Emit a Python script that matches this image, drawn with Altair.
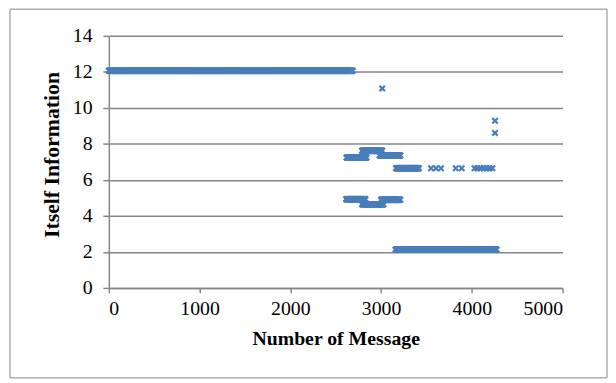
import altair as alt
import pandas as pd
import numpy as np

# Runs of consecutive messages sharing the same itself-information value
run_start = [0, 2620, 2790, 2985, 2615, 2790, 3000, 3160, 3165]
run_end = [2690, 2840, 3017, 3213, 2830, 3028, 3213, 4273, 3420]
run_value = [12.06, 7.24, 7.62, 7.36, 4.93, 4.64, 4.90, 2.13, 6.65]

# Isolated messages
single_x = [3551, 3606, 3660, 3823, 3889, 4030, 4062, 4095, 4130, 4162, 4195, 4227, 3013, 4256, 4256]
single_y = [6.65, 6.65, 6.65, 6.65, 6.65, 6.65, 6.65, 6.65, 6.65, 6.65, 6.65, 6.65, 11.08, 9.28, 8.61]

x_ticks = [0, 1000, 2000, 3000, 4000, 5000]
y_ticks = [0, 2, 4, 6, 8, 10, 12, 14]

xs, ys = [], []
for s, e, v in zip(run_start, run_end, run_value):
    for m in range(s, e + 1, 4):
        xs.append(m)
        ys.append(v)
xs += single_x
ys += single_y
df = pd.DataFrame({"msg": xs, "info": ys})

FONT = "Liberation Serif"
GREY = "#868686"
BLUE = "#4a7ebb"

points = alt.Chart(df).mark_point(
    shape="M-1,-1L1,1M1,-1L-1,1",
    filled=False,
    size=30,
    strokeWidth=2.2,
    color=BLUE,
    opacity=1,
).encode(
    x=alt.X("msg:Q", scale=alt.Scale(domain=[0, 5000], nice=False),
            axis=alt.Axis(values=x_ticks, title="Number of Message", grid=False,
                          format="d", tickSize=5, labelPadding=6, titlePadding=10,
                          titleFontSize=20)),
    y=alt.Y("info:Q", scale=alt.Scale(domain=[0, 14], nice=False),
            axis=alt.Axis(values=y_ticks, title="Itself Information", grid=True,
                          format="d", tickSize=6, labelPadding=11, titlePadding=9,
                          titleFontSize=22, titleY=120)),
)

frame = alt.Chart(pd.DataFrame({"a": [0]})).mark_rect(
    filled=False, stroke=GREY, strokeWidth=1, clip=False
).encode(
    x=alt.value(-100), x2=alt.value(504), y=alt.value(-27), y2=alt.value(346)
)

chart = alt.layer(frame, points).properties(
    width=459, height=255,
    autosize=alt.AutoSizeParams(type="none"),
    padding={"left": 102, "top": 26, "right": 46, "bottom": 93},
).configure_view(stroke=None).configure_axis(
    domainColor=GREY, tickColor=GREY, gridColor=GREY, gridOpacity=1,
    labelFont=FONT, titleFont=FONT, labelFontSize=20,
    labelColor="#000000", titleColor="#000000", titleFontWeight="bold",
    domainWidth=1.5, tickWidth=1.5, gridWidth=1.5,
)

chart.save("out.html", embed_options={"renderer": "svg", "actions": False})
